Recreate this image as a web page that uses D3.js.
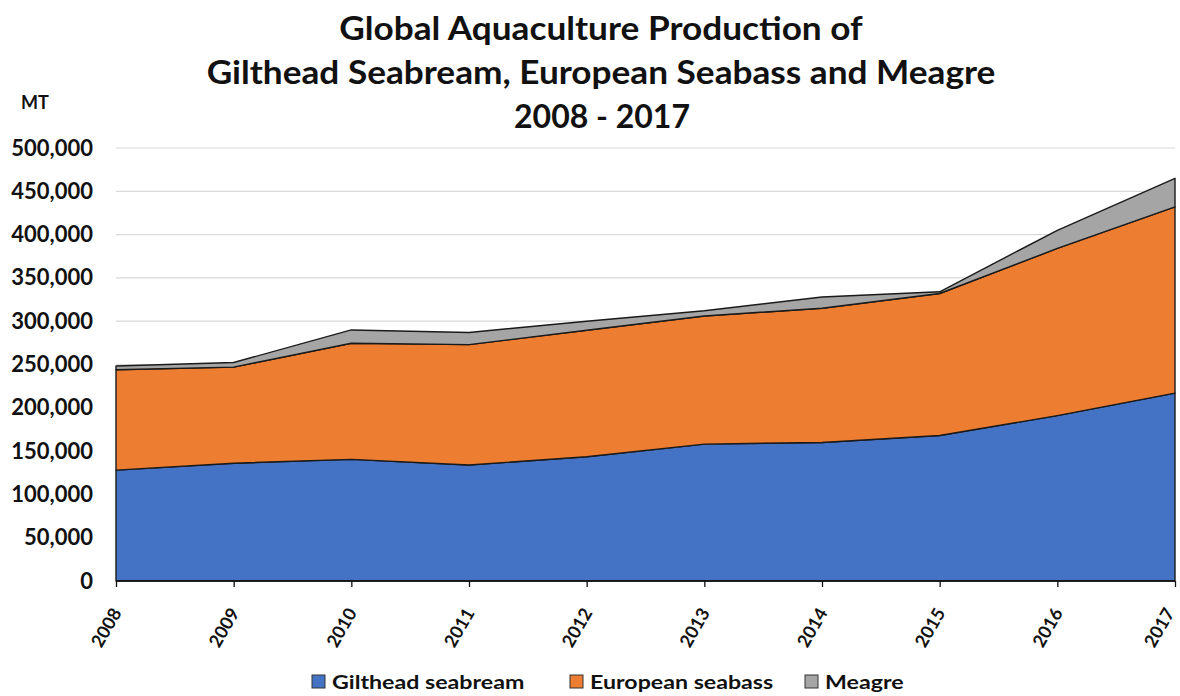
<!DOCTYPE html>
<html>
<head>
<meta charset="utf-8">
<script src="https://cdn.jsdelivr.net/npm/d3@7"></script>
<style>
  html, body { margin: 0; padding: 0; background: #fff; }
  svg { display: block; }
  text { font-family: Lato, "Open Sans", sans-serif; font-weight: 700; fill: #111; }
</style>
</head>
<body>
<svg id="chart" width="1180" height="696"></svg>
<script>
// Production in metric tonnes, per year
const years = [2008, 2009, 2010, 2011, 2012, 2013, 2014, 2015, 2016, 2017];
const seabream = [128000, 136000, 140500, 134000, 143500, 158000, 160000, 168000, 191000, 217000];
const seabass  = [116000, 111000, 134000, 139000, 146000, 148000, 155000, 164000, 193000, 215000];
const meagre   = [4200, 5300, 15400, 14000, 10500, 6000, 13000, 2000, 21000, 33000];
const yTicks = [0, 50000, 100000, 150000, 200000, 250000, 300000, 350000, 400000, 450000, 500000];
const seriesNames = ["Gilthead seabream", "European seabass", "Meagre"];
const seriesColors = ["#4472C4", "#ED7D31", "#A5A5A5"];
const titleLines = ["Global Aquaculture Production of", "Gilthead Seabream, European Seabass and Meagre", "2008 - 2017"];

const svg = d3.select("#chart");
const plotLeft = 116, plotRight = 1175, plotTop = 148, plotBottom = 581;

const x = d3.scalePoint().domain(years).range([plotLeft, plotRight]);
const y = d3.scaleLinear().domain([0, 500000]).range([plotBottom, plotTop]);

const rows = years.map((yr, i) => ({ year: yr, s0: seabream[i], s1: seabass[i], s2: meagre[i] }));
const stacked = d3.stack().keys(["s0", "s1", "s2"])(rows);

// Gridlines
svg.append("g")
  .selectAll("line")
  .data(yTicks.filter(d => d > 0))
  .join("line")
  .attr("x1", plotLeft).attr("x2", plotRight)
  .attr("y1", d => y(d)).attr("y2", d => y(d))
  .attr("stroke", "#d9d9d9").attr("stroke-width", 1.2);

// Stacked areas
const area = d3.area()
  .x(d => x(d.data.year))
  .y0(d => y(d[0]))
  .y1(d => y(d[1]));

svg.append("g")
  .selectAll("path")
  .data(stacked)
  .join("path")
  .attr("d", area)
  .attr("fill", (d, i) => seriesColors[i])
  .attr("stroke", "#1a1a1a")
  .attr("stroke-width", 1.4)
  .attr("stroke-linejoin", "round");

// Y axis labels
const yAxis = d3.axisLeft(y).tickValues(yTicks).tickSize(0).tickPadding(23)
  .tickFormat(d3.format(","));
const gy = svg.append("g").attr("transform", `translate(${plotLeft},0)`).call(yAxis);
gy.select(".domain").remove();
gy.selectAll("text").attr("font-size", 22).attr("font-family", "Lato, sans-serif").attr("font-weight", 700).attr("fill", "#111");

// X axis with slanted year labels (last one nudged in to stay on the canvas)
const xAxis = d3.axisBottom(x).tickSize(6).tickFormat(d3.format("d"));
const gx = svg.append("g").attr("transform", `translate(0,${plotBottom})`).call(xAxis);
gx.select(".domain").attr("stroke", "#111").attr("stroke-width", 1.5).attr("d", `M${plotLeft},0H${plotRight}`);
gx.selectAll(".tick line").attr("stroke", "#111").attr("stroke-width", 1.3);
gx.selectAll("text")
  .attr("font-size", 18).attr("font-family", "Lato, sans-serif").attr("font-weight", 700).attr("fill", "#111")
  .attr("text-anchor", "end")
  .attr("x", 0).attr("y", 0)
  .attr("dy", "0.3em")
  .attr("transform", (d, i) => `translate(${i === years.length - 1 ? -5 : 1},29) rotate(-60)`);

// Unit label
svg.append("text").attr("x", 35).attr("y", 109).attr("text-anchor", "middle")
  .attr("font-size", 18).text("MT");

// Title
svg.append("g").selectAll("text")
  .data(titleLines)
  .join("text")
  .attr("text-anchor", "middle")
  .attr("font-size", 32)
  .attr("transform", (d, i) => i === 2
    ? `translate(602,${40 + i * 44})`
    : `translate(601,${40 + i * 44}) scale(1.1,1)`)
  .text(d => d);

// Legend
const legendX = [312, 570, 805];
const lg = svg.append("g").selectAll("g")
  .data(seriesNames)
  .join("g")
  .attr("transform", (d, i) => `translate(${legendX[i]},675)`);
lg.append("rect").attr("width", 13).attr("height", 13)
  .attr("fill", (d, i) => seriesColors[i]).attr("stroke", "#333").attr("stroke-width", 1);
lg.append("text").attr("transform", "translate(20,13.5) scale(1.22,1)").attr("font-size", 19).text(d => d);
</script>
</body>
</html>
